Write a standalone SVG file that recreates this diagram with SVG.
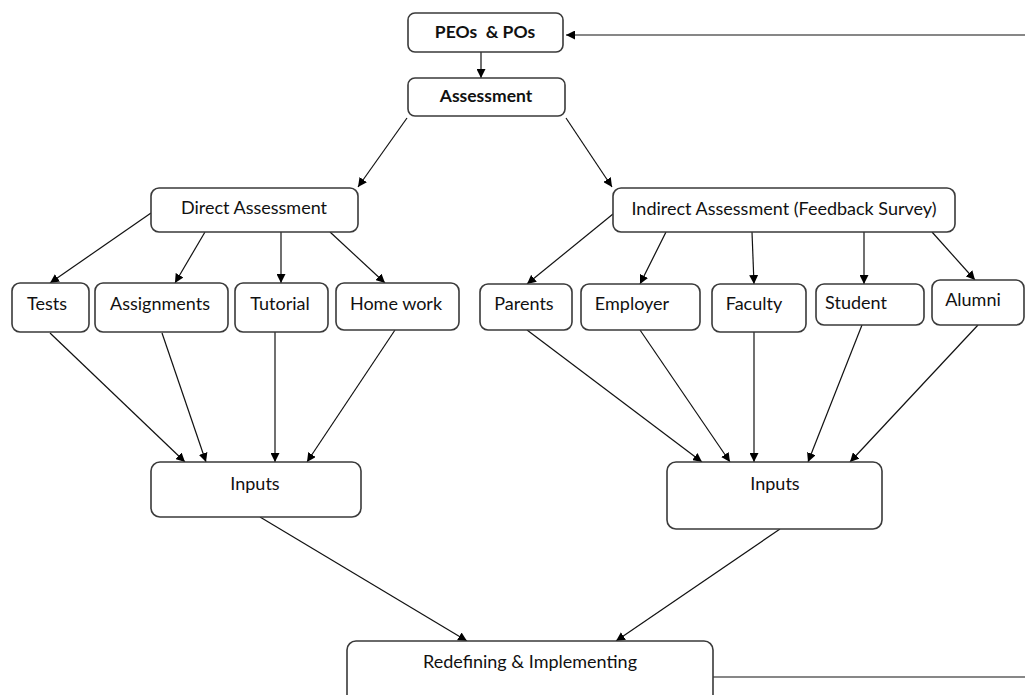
<svg xmlns="http://www.w3.org/2000/svg" width="1031" height="695" viewBox="0 0 1031 695">
<defs>
<marker id="ah" viewBox="0 0 10 10" refX="10" refY="5" markerWidth="9" markerHeight="9" markerUnits="userSpaceOnUse" orient="auto">
<path d="M0,0 L10,5 L0,10 z" fill="#000"/>
</marker>
<style>
.box{fill:#fff;stroke:#3a3a3a;stroke-width:1.6}
.t{font-family:Lato,"Liberation Sans",sans-serif;font-size:18px;fill:#111;text-anchor:middle;dominant-baseline:middle}
.b{font-weight:bold;font-size:17.5px}
.pre{white-space:pre}
.c{stroke:#111;stroke-width:1.2;fill:none}
.a{marker-end:url(#ah)}
</style>
</defs>
<rect width="1031" height="695" fill="#fff"/>
<g id="connectors">
<line class="c a" x1="1025" y1="35" x2="566" y2="35"/>
<line class="c a" x1="481" y1="52" x2="481" y2="78"/>
<line class="c a" x1="407" y1="118" x2="358" y2="187"/>
<line class="c a" x1="566" y1="118" x2="612" y2="187"/>
<line class="c a" x1="151" y1="213" x2="50" y2="283"/>
<line class="c a" x1="205" y1="232" x2="175" y2="283"/>
<line class="c a" x1="281" y1="232" x2="281" y2="283"/>
<line class="c a" x1="330" y1="232" x2="385" y2="283"/>
<line class="c a" x1="613" y1="214" x2="527" y2="284"/>
<line class="c a" x1="666" y1="232" x2="640" y2="284"/>
<line class="c a" x1="752" y1="232" x2="754" y2="284"/>
<line class="c a" x1="864" y1="232" x2="864" y2="284"/>
<line class="c a" x1="932" y1="232" x2="975" y2="280"/>
<line class="c a" x1="50" y1="333" x2="185" y2="462"/>
<line class="c a" x1="162" y1="333" x2="206" y2="462"/>
<line class="c a" x1="275" y1="332" x2="275" y2="462"/>
<line class="c a" x1="395" y1="330" x2="307" y2="462"/>
<line class="c a" x1="527" y1="330" x2="702" y2="462"/>
<line class="c a" x1="640" y1="330" x2="730" y2="462"/>
<line class="c a" x1="754" y1="332" x2="754" y2="462"/>
<line class="c a" x1="862" y1="325" x2="808" y2="462"/>
<line class="c a" x1="978" y1="325" x2="850" y2="462"/>
<line class="c a" x1="260" y1="517" x2="467" y2="641"/>
<line class="c a" x1="780" y1="529" x2="616" y2="641"/>
<line class="c" x1="713" y1="677" x2="1025" y2="677"/>
</g>
<g id="peos"><rect class="box" x="408" y="13" width="155" height="39" rx="7"/><text class="t b pre" x="485" y="34">PEOs  &amp; POs</text></g>
<g id="assessment"><rect class="box" x="408" y="78" width="157" height="38" rx="7"/><text class="t b" x="486" y="98">Assessment</text></g>
<g id="direct"><rect class="box" x="151" y="188" width="207" height="44" rx="8"/><text class="t" x="254" y="209">Direct Assessment</text></g>
<g id="indirect"><rect class="box" x="613" y="188" width="342" height="44" rx="8"/><text class="t" x="784" y="210">Indirect Assessment (Feedback Survey)</text></g>
<g id="tests"><rect class="box" x="12" y="283" width="77" height="49" rx="8"/><text class="t" x="47" y="305">Tests</text></g>
<g id="assignments"><rect class="box" x="95" y="283" width="133" height="49" rx="8"/><text class="t" x="160" y="305">Assignments</text></g>
<g id="tutorial"><rect class="box" x="235" y="283" width="93" height="49" rx="8"/><text class="t" x="280" y="305">Tutorial</text></g>
<g id="homework"><rect class="box" x="336" y="283" width="123" height="47" rx="8"/><text class="t" x="396" y="305">Home work</text></g>
<g id="parents"><rect class="box" x="480" y="284" width="92" height="46" rx="8"/><text class="t" x="524" y="305">Parents</text></g>
<g id="employer"><rect class="box" x="581" y="284" width="119" height="46" rx="8"/><text class="t" x="632" y="305">Employer</text></g>
<g id="faculty"><rect class="box" x="712" y="284" width="94" height="48" rx="8"/><text class="t" x="754" y="305">Faculty</text></g>
<g id="student"><rect class="box" x="816" y="284" width="108" height="41" rx="8"/><text class="t" x="856" y="304">Student</text></g>
<g id="alumni"><rect class="box" x="932" y="280" width="92" height="45" rx="8"/><text class="t" x="973" y="301">Alumni</text></g>
<g id="inputs-left"><rect class="box" x="151" y="462" width="210" height="55" rx="9"/><text class="t" x="255" y="485">Inputs</text></g>
<g id="inputs-right"><rect class="box" x="667" y="462" width="215" height="67" rx="9"/><text class="t" x="775" y="485">Inputs</text></g>
<g id="redefining"><rect class="box" x="347" y="641" width="366" height="64" rx="9"/><text class="t" x="530" y="663">Redefining &amp; Implementing</text></g>
</svg>
